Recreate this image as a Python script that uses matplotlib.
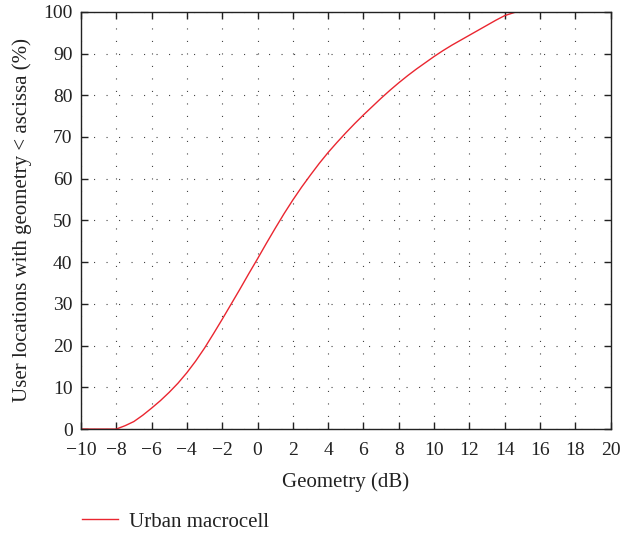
"""
CDF of geometry factor, urban macrocell
"""
import matplotlib
matplotlib.use("Agg")
import matplotlib.pyplot as plt

# geometry (dB) and share of user locations below it (%)
geometry_db = [-10, -8, -7.5, -7, -6.5, -6, -5.5, -5, -4.5, -4, -3.5, -3,
               -2.5, -2, -1.5, -1, -0.5, 0, 0.5, 1, 1.5, 2, 2.5, 3, 3.5, 4,
               4.5, 5, 5.5, 6, 6.5, 7, 7.5, 8, 8.5, 9, 9.5, 10, 10.5, 11,
               11.5, 12, 12.5, 13, 13.5, 14, 14.66]
cdf_pct = [0, 0, 0.8, 1.8, 3.3, 5.0, 6.8, 8.8, 11.0, 13.5, 16.3, 19.4,
           22.8, 26.3, 29.9, 33.5, 37.2, 40.8, 44.5, 48.1, 51.6, 54.9, 58.0,
           60.9, 63.7, 66.3, 68.7, 71.0, 73.2, 75.3, 77.3, 79.3, 81.2, 83.0,
           84.7, 86.3, 87.8, 89.3, 90.7, 92.0, 93.2, 94.4, 95.6, 96.8, 98.0,
           99.1, 100]
x_ticks = list(range(-10, 21, 2))
y_ticks = list(range(0, 101, 10))

plt.rcParams['font.family'] = ['Liberation Serif', 'DejaVu Serif']
plt.rcParams['lines.scale_dashes'] = False

fig = plt.figure(figsize=(6.22, 5.37), dpi=100)
ax = fig.add_axes([0.130, 0.201, 0.852, 0.777])

ax.plot(geometry_db, cdf_pct, color='#ea2630', lw=1.0, label='Urban macrocell')

ax.set_xlim(-10, 20)
ax.set_ylim(0, 100)
ax.set_xticks(x_ticks)
ax.set_yticks(y_ticks)
ax.tick_params(direction='in', length=5, width=1.0, top=True, right=True,
               labelsize=14, colors='#222222', pad=6)
ax.tick_params(axis='x', pad=9)
ax.grid(True, color='#444444', lw=0.8, linestyle=(0, (0.8, 8.2)))
for sp in ax.spines.values():
    sp.set_linewidth(1.0)
    sp.set_color('#222222')

ax.set_xlabel('Geometry (dB)', fontsize=15, color='#222222', labelpad=10)
ax.set_ylabel('User locations with geometry < ascissa (%)', fontsize=15,
              color='#222222', labelpad=8)

fig.legend(loc='center left', bbox_to_anchor=(0.132, 0.028), frameon=False,
           fontsize=15, handlelength=1.7, handletextpad=0.53,
           borderpad=0, borderaxespad=0, labelcolor='#222222')

fig.savefig('out.png', dpi=100)
